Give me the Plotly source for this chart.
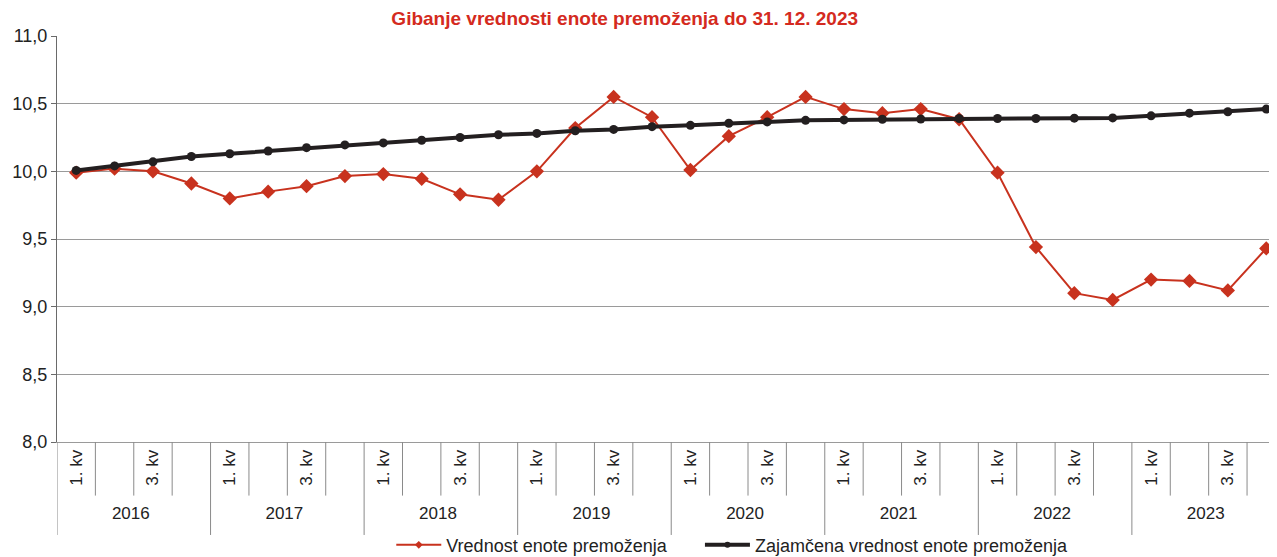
import plotly.graph_objects as go

# kategorije
leta = ["2016", "2017", "2018", "2019", "2020", "2021", "2022", "2023"]
kvartali = ["1. kv", " ", "3. kv", "  "]

# vrednost enote premoženja
vrednost = [9.99, 10.02, 10.00, 9.91, 9.80, 9.85, 9.89, 9.965,
            9.98, 9.945, 9.83, 9.79, 10.00, 10.32, 10.55, 10.40,
            10.01, 10.26, 10.40, 10.55, 10.46, 10.43, 10.46, 10.385,
            9.99, 9.44, 9.10, 9.05, 9.20, 9.19, 9.12, 9.43]

# zajamčena vrednost enote premoženja
zajamcena = [10.007, 10.04, 10.07, 10.11, 10.13, 10.15, 10.175, 10.195,
             10.21, 10.23, 10.25, 10.27, 10.28, 10.30, 10.31, 10.33,
             10.34, 10.355, 10.365, 10.377, 10.38, 10.385, 10.387, 10.39,
             10.39, 10.39, 10.393, 10.395, 10.41, 10.43, 10.44, 10.46]

x_leta = [l for l in leta for _ in kvartali]
x_kv = [k for _ in leta for k in kvartali]

RDECA = "#c8321e"
CRNA = "#231f20"
SIVA = "#8a8a8a"
FONT = "Liberation Sans, Arial, sans-serif"

fig = go.Figure()

fig.add_trace(go.Scatter(
    x=[x_leta, x_kv], y=vrednost,
    name="Vrednost enote premoženja", showlegend=False,
    mode="lines+markers",
    line=dict(color=RDECA, width=2),
    marker=dict(symbol="diamond", size=11, color=RDECA),
))

fig.add_trace(go.Scatter(
    x=[x_leta, x_kv], y=zajamcena,
    name="Zajamčena vrednost enote premoženja", showlegend=False,
    mode="lines+markers",
    line=dict(color=CRNA, width=4),
    marker=dict(symbol="circle", size=9, color=CRNA),
))

# legenda z manjšimi oznakami, vsaka postavka v svoji legendi
fig.add_trace(go.Scatter(
    x=[None], y=[None], name="Vrednost enote premoženja",
    mode="lines+markers", line=dict(color=RDECA, width=2),
    marker=dict(symbol="diamond", size=6, color=RDECA),
    legend="legend",
))
fig.add_trace(go.Scatter(
    x=[None], y=[None], name="Zajamčena vrednost enote premoženja",
    mode="lines+markers", line=dict(color=CRNA, width=4),
    marker=dict(symbol="circle", size=6, color=CRNA),
    legend="legend2",
))

# ločnice med kvartali in leti
n = len(x_kv)
for i in range(-1, n):
    konec_leta = (i + 1) % len(kvartali) == 0
    fig.add_shape(type="line", xref="x", yref="paper",
                  x0=i + 0.5, x1=i + 0.5, y0=0,
                  y1=-0.229 if konec_leta else -0.132,
                  line=dict(color=SIVA, width=1))

legenda = dict(orientation="h", xanchor="left", y=-0.254, yanchor="middle",
               font=dict(size=18), itemwidth=45, bgcolor="rgba(0,0,0,0)")

# stran ima 8 px roba, zato je slika toliko manjša
fig.update_layout(
    title=dict(text="Gibanje vrednosti enote premoženja do 31. 12. 2023",
               x=0.486, xanchor="center", y=0.982, yanchor="middle",
               font=dict(family=FONT, size=19, color="#d42a20", weight="bold")),
    separators=", ",
    width=1269, height=549,
    margin=dict(l=49, r=0, t=28, b=115, autoexpand=False),
    plot_bgcolor="white", paper_bgcolor="white",
    font=dict(family=FONT, size=18, color="#222222"),
    showlegend=True,
    legend=dict(legenda, x=0.274),
    legend2=dict(legenda, x=0.527),
)

fig.update_yaxes(
    range=[8.0, 11.0], dtick=0.5, tickformat=".1f",
    showgrid=True, gridcolor="#9a9a9a", gridwidth=1,
    showline=True, linecolor="#6a6a6a", linewidth=1,
    ticks="outside", ticklen=5, tickcolor="#6a6a6a",
    zeroline=False, tickfont=dict(size=18), automargin=False,
)

fig.update_xaxes(
    type="multicategory",
    range=[-0.5, 31.28],
    showgrid=False, showline=True, linecolor="#9a9a9a", linewidth=1,
    ticks="", tickangle=-90,
    showdividers=False,
    tickfont=dict(size=17), automargin=False,
)

fig.write_html("out.html")
